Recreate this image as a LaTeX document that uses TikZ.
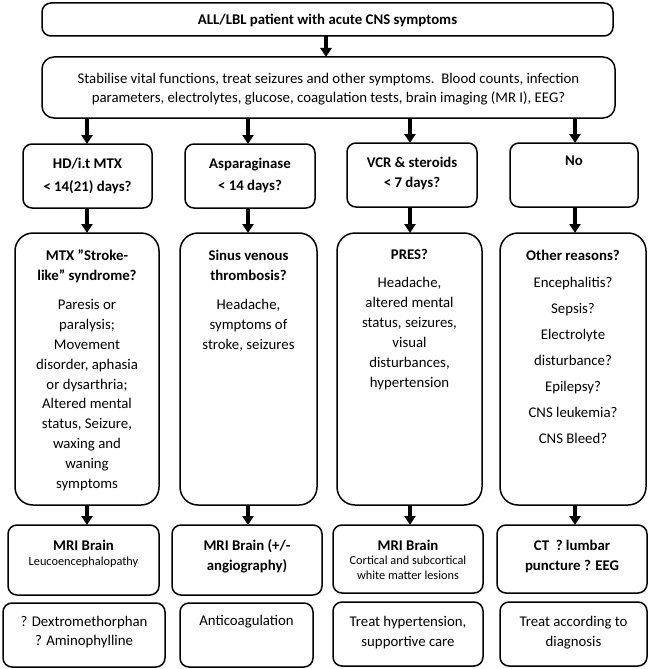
\documentclass[tikz,border=0pt]{standalone}
\usepackage{fontspec}
\setmainfont{Carlito}
\usetikzlibrary{arrows.meta}
\begin{document}
\begin{tikzpicture}[x=1pt,y=-1pt,
  box/.style={draw, line width=1.5pt, rounded corners=9pt, inner sep=0pt, outer sep=0pt, anchor=north west},
  bigbox/.style={draw, line width=1.5pt, rounded corners=18pt, inner sep=0pt, outer sep=0pt, anchor=north west},
  txt/.style={align=center, inner sep=0pt, anchor=north, font=\fontsize{14.8}{19.8}\selectfont},
  btxt/.style={align=center, inner sep=0pt, anchor=north, font=\fontsize{14.8}{20}\selectfont\bfseries},
  stxt/.style={align=center, inner sep=0pt, anchor=north, font=\fontsize{12.3}{15}\selectfont},
  arr/.style={-{Triangle[length=9pt,width=11pt]}, line width=3.4pt}]
\useasboundingbox (0,0) rectangle (649,669);
% column axes for connectors
\coordinate (c0) at (326,0);
\coordinate (c1) at (87,0);
\coordinate (c2) at (248,0);
\coordinate (c3) at (410,0);
\coordinate (c4) at (575,0);
% top boxes
\node[box, minimum width=571pt, minimum height=33pt] (top) at (42,3) {};
\node[btxt, anchor=center] (toptext) at (327.5,20) {ALL/LBL patient with acute CNS symptoms};
\node[box, rounded corners=12pt, minimum width=573pt, minimum height=61pt] (stab) at (42,57) {};
\node[txt, font=\fontsize{14.8}{19}\selectfont] (stabtext) at (328.5,73.5) {Stabilise vital functions, treat seizures and other symptoms.\ \ Blood counts, infection\\parameters, electrolytes, glucose, coagulation tests, brain imaging (MR I), EEG?};
% row 1
\node[box, minimum width=129pt, minimum height=64pt] (r1a) at (23,144) {};
\node[box, minimum width=130pt, minimum height=64pt] (r1b) at (185,144) {};
\node[box, minimum width=130pt, minimum height=64pt] (r1c) at (347,143) {};
\node[box, minimum width=128pt, minimum height=64pt] (r1d) at (510,143) {};
\node[btxt, font=\fontsize{14.8}{23}\selectfont\bfseries] (r1at) at (87.5,157.5) {HD/i.t MTX\\< 14(21) days?};
\node[btxt, font=\fontsize{14.8}{22}\selectfont\bfseries] (r1bt) at (250,157.5) {Asparaginase\\< 14 days?};
\node[btxt, font=\fontsize{14.8}{20}\selectfont\bfseries] (r1ct) at (412,156.5) {VCR \& steroids\\< 7 days?};
\node[btxt] (r1dt) at (574,155.5) {No};
% row 2
\node[bigbox, minimum width=144pt, minimum height=272pt] (r2a) at (15,233) {};
\node[bigbox, minimum width=137pt, minimum height=272pt] (r2b) at (180,233) {};
\node[bigbox, minimum width=145pt, minimum height=272pt] (r2c) at (337,233) {};
\node[bigbox, minimum width=146pt, minimum height=272pt] (r2d) at (500,233) {};
\node[btxt] (r2ah) at (87,249.5) {MTX ”Stroke-\\like” syndrome?};
\node[txt] (r2ab) at (87,299.5) {Paresis or\\paralysis;\\Movement\\disorder, aphasia\\or dysarthria;\\Altered mental\\status, Seizure,\\waxing and\\waning\\symptoms};
\node[btxt] (r2bh) at (248.5,249.5) {Sinus venous\\thrombosis?};
\node[txt, font=\fontsize{14.8}{20}\selectfont] (r2bb) at (248.5,299.5) {Headache,\\symptoms of\\stroke, seizures};
\node[btxt] (r2ch) at (409.5,249.5) {PRES?};
\node[txt, font=\fontsize{14.8}{20}\selectfont] (r2cb) at (409.5,277.5) {Headache,\\altered mental\\status, seizures,\\visual\\disturbances,\\hypertension};
\node[btxt] (r2dh) at (573,249.5) {Other reasons?};
\node[txt, font=\fontsize{14.8}{26}\selectfont] (r2db) at (573,277.5) {Encephalitis?\\Sepsis?\\Electrolyte\\disturbance?\\Epilepsy?\\CNS leukemia?\\CNS Bleed?};
% row 3
\node[box, minimum width=151pt, minimum height=70pt] (r3a) at (8,525) {};
\node[box, minimum width=150pt, minimum height=70pt] (r3b) at (172,525) {};
\node[box, minimum width=150pt, minimum height=68pt] (r3c) at (333,525) {};
\node[box, minimum width=150pt, minimum height=68pt] (r3d) at (497,525) {};
\node[btxt] (r3ah) at (83.5,539.5) {MRI Brain};
\node[stxt] (r3as) at (83.5,557) {Leucoencephalopathy};
\node[btxt] (r3bh) at (247,539.5) {MRI Brain (+/-\\angiography)};
\node[btxt] (r3ch) at (408,539.5) {MRI Brain};
\node[stxt] (r3cs) at (408,556) {Cortical and subcortical\\white matter lesions};
\node[btxt] (r3dh) at (572,539.5) {CT\ \ ? lumbar\\puncture ? EEG};
% row 4
\node[box, minimum width=162pt, minimum height=64pt] (r4a) at (3,603) {};
\node[box, minimum width=133pt, minimum height=64pt] (r4b) at (180,603) {};
\node[box, minimum width=150pt, minimum height=64pt] (r4c) at (333,602) {};
\node[box, minimum width=147pt, minimum height=64pt] (r4d) at (500,602) {};
\node[txt, font=\fontsize{14.8}{19}\selectfont] (r4at) at (84,616) {? Dextromethorphan\\? Aminophylline};
\node[txt] (r4bt) at (246.5,615.5) {Anticoagulation};
\node[txt, font=\fontsize{14.8}{20}\selectfont] (r4ct) at (408,616) {Treat hypertension,\\supportive care};
\node[txt, font=\fontsize{14.8}{20}\selectfont] (r4dt) at (573.5,616) {Treat according to\\diagnosis};
% connectors
\draw[arr] (top.south -| c0) -- (stab.north -| c0);
\foreach \r/\s/\c in {stab/r1a/c1, stab/r1b/c2, stab/r1c/c3, stab/r1d/c4,
                      r1a/r2a/c1, r1b/r2b/c2, r1c/r2c/c3, r1d/r2d/c4,
                      r2a/r3a/c1, r2b/r3b/c2, r2c/r3c/c3, r2d/r3d/c4}
  \draw[arr] (\r.south -| \c) -- (\s.north -| \c);
\end{tikzpicture}
\end{document}
